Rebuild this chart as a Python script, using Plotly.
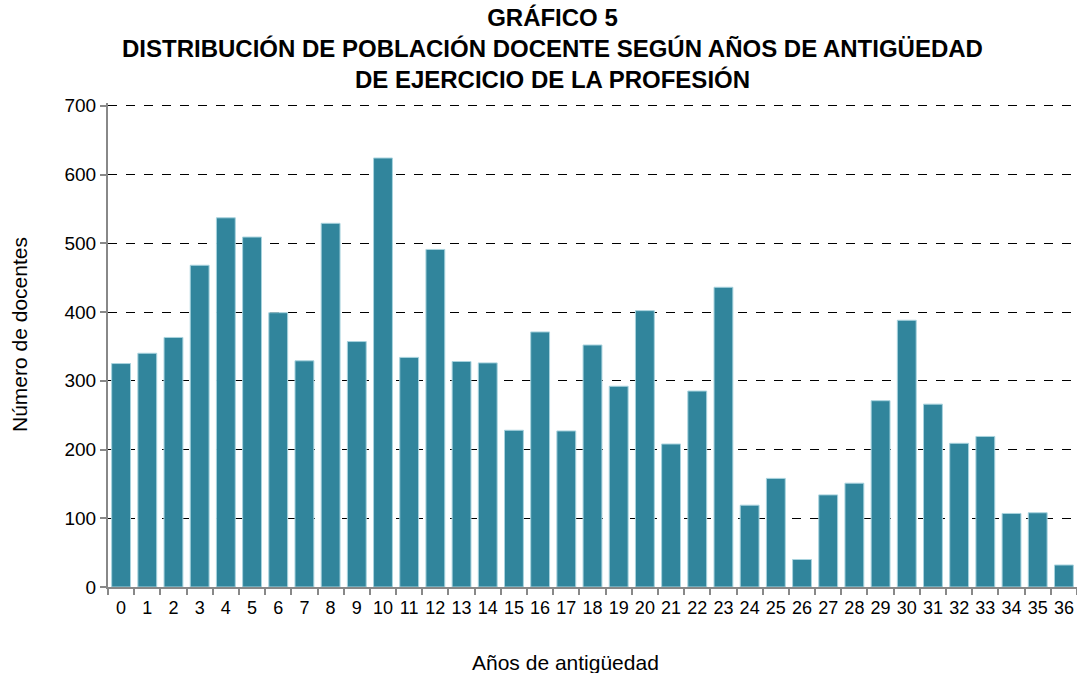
import plotly.graph_objects as go

years = [str(i) for i in range(37)]
docentes = [325, 340, 363, 468, 537, 509, 399, 329, 529, 357,
            624, 334, 491, 328, 326, 228, 371, 227, 352, 292,
            402, 208, 285, 436, 119, 158, 40, 134, 151, 271,
            388, 266, 209, 219, 107, 108, 32]

title_lines = ["GRÁFICO 5",
               "DISTRIBUCIÓN DE POBLACIÓN DOCENTE SEGÚN AÑOS DE ANTIGÜEDAD",
               "DE EJERCICIO DE LA PROFESIÓN"]
y_title = "Número de docentes"
x_title = "Años de antigüedad"

fig = go.Figure(go.Bar(
    x=years, y=docentes,
    marker=dict(color="#31859C", line=dict(color="#A8D3DE", width=1)),
))

W, H = 1077, 673
L, R, T, B = 108, 0, 103, 86
pw, ph = W - L - R, H - T - B

fig.update_layout(
    width=W, height=H,
    paper_bgcolor="white", plot_bgcolor="white",
    margin=dict(l=L, r=R, t=T, b=B),
    bargap=0.28,
    showlegend=False,
    font=dict(family="Liberation Sans, Arial, sans-serif", color="#000000"),
)

fig.update_xaxes(
    type="category", range=[-0.5, 36.5],
    showline=True, linecolor="#888888", linewidth=2,
    ticks="outside", tickson="boundaries", ticklen=6, tickcolor="#888888", tickwidth=2,
    tickangle=0, ticklabelstandoff=3,
    tickfont=dict(size=18, color="#000"),
    showgrid=False,
)
fig.update_yaxes(
    range=[0, 704], tickvals=[0, 100, 200, 300, 400, 500, 600, 700],
    showline=True, linecolor="#888888", linewidth=2,
    ticks="outside", ticklen=6, tickcolor="#888888", tickwidth=2,
    tickfont=dict(size=19, color="#000"),
    showgrid=True, gridcolor="#000000", gridwidth=1, griddash="dash",
    zeroline=False,
)

# chart title
fig.add_annotation(text="<b>" + "<br>".join(title_lines) + "</b>",
                   xref="paper", yref="paper",
                   x=(552 - L) / pw, y=(H - B - 2) / ph,
                   xanchor="center", yanchor="top", showarrow=False,
                   font=dict(size=24, color="#000"))
fig.add_annotation(text=y_title, textangle=-90, xref="paper", yref="paper",
                   x=(19 - L) / pw, y=(H - B - 335) / ph,
                   xanchor="center", yanchor="middle", showarrow=False,
                   font=dict(size=21, color="#000"))
fig.add_annotation(text=x_title, xref="paper", yref="paper",
                   x=(565 - L) / pw, y=(H - B - 662) / ph,
                   xanchor="center", yanchor="middle",
                   showarrow=False, font=dict(size=21, color="#000"))

fig.write_html("out.html", config={"displayModeBar": False},
               post_script="document.body.style.margin='0';document.body.style.overflow='hidden';")
